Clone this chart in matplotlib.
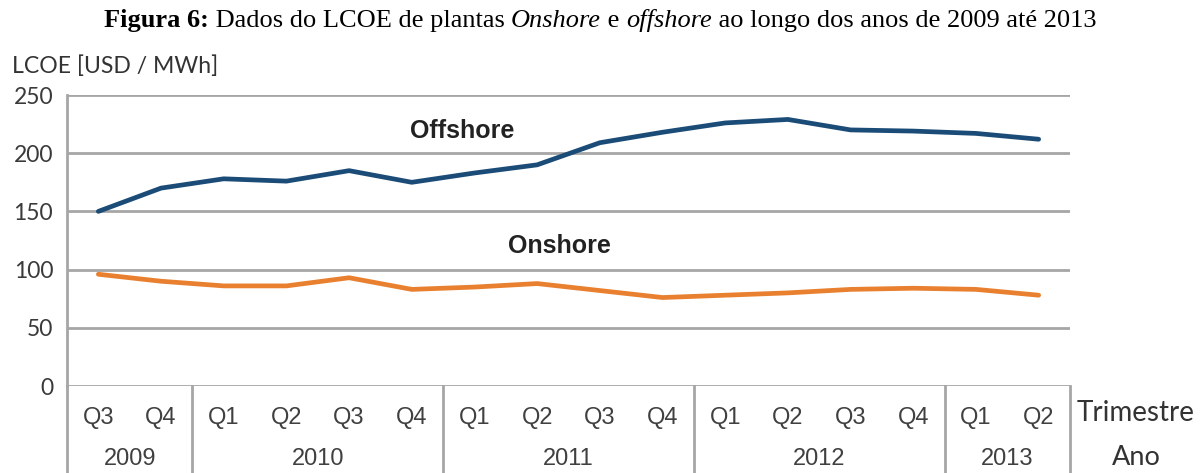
import numpy as np
import matplotlib
matplotlib.use("Agg")
import matplotlib.pyplot as plt
import matplotlib.transforms as mtransforms

# data
quarters = ["Q3", "Q4",
            "Q1", "Q2", "Q3", "Q4",
            "Q1", "Q2", "Q3", "Q4",
            "Q1", "Q2", "Q3", "Q4",
            "Q1", "Q2"]
years = ["2009", "2010", "2011", "2012", "2013"]
year_counts = [2, 4, 4, 4, 2]
offshore = [150, 170, 178, 176, 185, 175, 183, 190, 209, 218, 226, 229, 220, 219, 217, 212]
onshore = [96, 90, 86, 86, 93, 83, 85, 88, 82, 76, 78, 80, 83, 84, 83, 78]

BLUE = "#1b4c78"
ORANGE = "#e8802f"
GREY = "#a6a6a6"
SANS = "Liberation Sans"
SANS2 = "Lato"
SERIF = "Liberation Serif"

fig = plt.figure(figsize=(12, 4.73), dpi=100)
ax = fig.add_axes([67 / 1200, 1 - 386 / 473, 1003 / 1200, 291 / 473])

x = np.arange(len(quarters))
ax.plot(x, offshore, color=BLUE, lw=3.4, solid_capstyle="round", zorder=3)
ax.plot(x, onshore, color=ORANGE, lw=3.4, solid_capstyle="round", zorder=3)

ax.set_xlim(-0.5, len(quarters) - 0.5)
ax.set_ylim(0, 250)
ax.set_yticks(np.arange(0, 251, 50))
ax.yaxis.grid(True, color=GREY, lw=2)
ax.set_axisbelow(True)
for s in ["top", "right", "bottom"]:
    ax.spines[s].set_visible(False)
ax.spines["left"].set_color(GREY)
ax.spines["left"].set_linewidth(2)
ax.tick_params(axis="y", length=0, pad=10, labelsize=16.5, labelcolor="#3a3a3a")
for lab in ax.get_yticklabels():
    lab.set_fontfamily(SANS2)

ax.set_xticks(x)
ax.set_xticklabels(quarters, fontfamily=SANS, fontsize=17, color="#404040")
ax.tick_params(axis="x", length=0, pad=15)

# year row and separators below the axis
trans = mtransforms.blended_transform_factory(ax.transData, ax.transAxes)
edges = np.concatenate([[0], np.cumsum(year_counts)]) - 0.5
for e in edges:
    ax.axvline(e, ymin=-0.3, ymax=0, color=GREY, lw=2, clip_on=False)
for i, yr in enumerate(years):
    mid = (edges[i] + edges[i + 1]) / 2
    ax.text(mid, -0.25, yr, transform=trans, ha="center", va="center",
            fontfamily=SANS, fontsize=17, color="#404040")

ax.text(5.8, 219, "Offshore", ha="center", va="center", fontfamily=SANS,
        fontweight="bold", fontsize=18, color="#222222")
ax.text(7.35, 120, "Onshore", ha="center", va="center", fontfamily=SANS,
        fontweight="bold", fontsize=18, color="#222222")

fig.text(1136 / 1200, 1 - 413 / 473, "Trimestre", ha="center", va="center",
         fontfamily=SANS2, fontsize=20, color="#333333")
fig.text(1136 / 1200, 1 - 457 / 473, "Ano", ha="center", va="center",
         fontfamily=SANS2, fontsize=19.5, color="#333333")
fig.text(12 / 1200, 1 - 66 / 473, "LCOE [USD / MWh]", ha="left", va="center",
         fontfamily=SANS2, fontsize=16.6, color="#333333")

# title built from pieces with mixed styles
pieces = [("Figura 6:", "bold", "normal"),
          (" Dados do LCOE de plantas ", "normal", "normal"),
          ("Onshore", "normal", "italic"),
          (" e ", "normal", "normal"),
          ("offshore", "normal", "italic"),
          (" ao longo dos anos de 2009 até 2013", "normal", "normal")]
ybase = 1 - 27 / 473
parts = [fig.text(0, ybase, txt, fontfamily=SERIF, fontsize=19, fontweight=w,
                  fontstyle=st, va="baseline") for txt, w, st in pieces]

# lay out title pieces side by side, centred on the figure
fig.canvas.draw()
r = fig.canvas.get_renderer()
widths = [p.get_window_extent(r).width for p in parts]
x0 = (1200 - sum(widths)) / 2
for p, w in zip(parts, widths):
    p.set_position((x0 / 1200, ybase))
    x0 += w

fig.savefig("out.png", dpi=100, facecolor="white")
